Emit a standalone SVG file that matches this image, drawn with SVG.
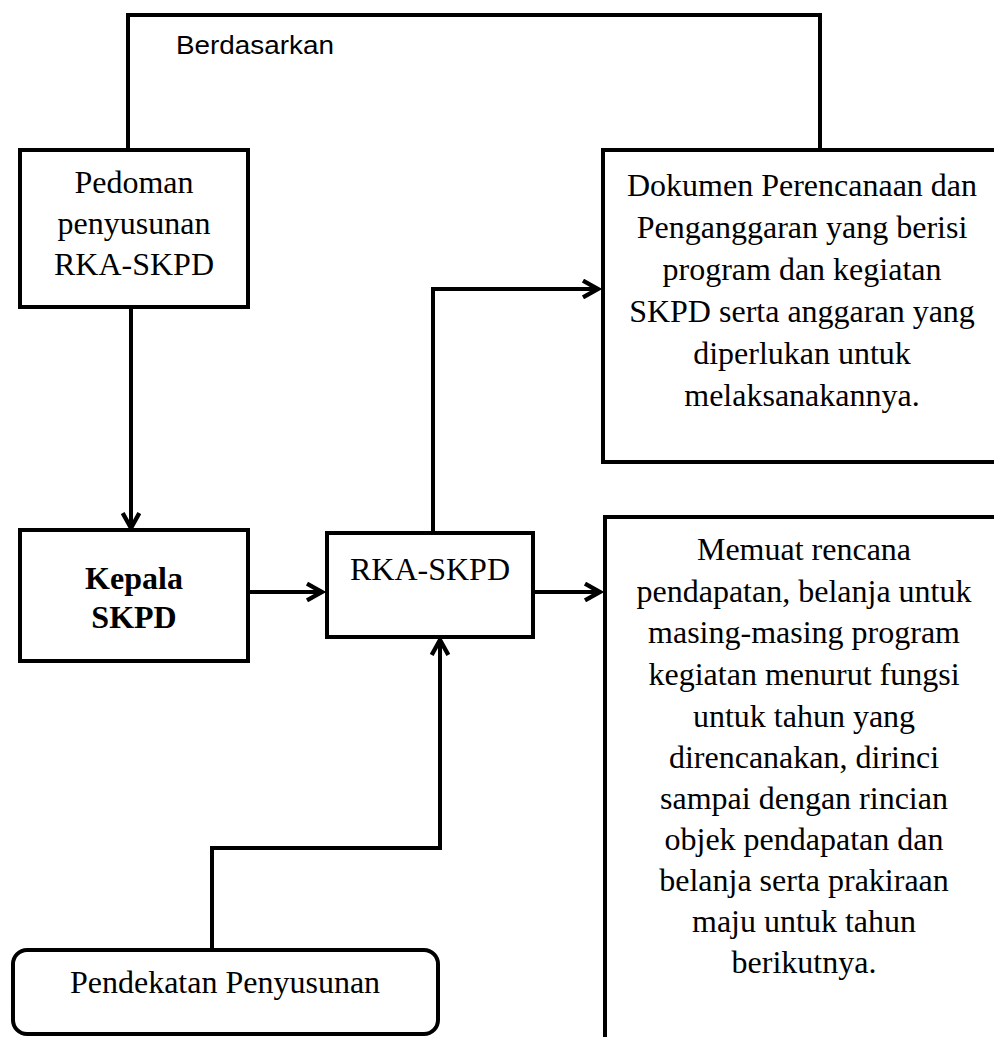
<svg xmlns="http://www.w3.org/2000/svg" width="994" height="1037" viewBox="0 0 994 1037">
<defs>
<style>
.box{fill:#fff;stroke:#000;stroke-width:4}
.ln{fill:none;stroke:#000;stroke-width:4}
.t{font-family:"Liberation Serif","Times New Roman",serif;font-size:32px;fill:#000;text-anchor:middle}
.b{font-weight:bold}
.lbl{font-family:"Liberation Sans",Arial,sans-serif;font-size:26px;fill:#000}
</style>
<marker id="ah" viewBox="0 0 12 12" refX="10" refY="6" markerWidth="5" markerHeight="5" markerUnits="strokeWidth" orient="auto">
<path d="M1,1 L10,6 L1,11" fill="none" stroke="#000" stroke-width="2.6"/>
</marker>
</defs>
<rect width="994" height="1037" fill="#fff"/>
<g id="connectors">
<path class="ln" d="M128,150 V15 H820 V152"/>
<text class="lbl" x="176" y="54" textLength="158" lengthAdjust="spacingAndGlyphs">Berdasarkan</text>
<path class="ln" d="M131,307 V528" marker-end="url(#ah)"/>
<path class="ln" d="M248,592 H322" marker-end="url(#ah)"/>
<path class="ln" d="M533,592 H600" marker-end="url(#ah)"/>
<path class="ln" d="M433,533 V289 H598" marker-end="url(#ah)"/>
<path class="ln" d="M212,950 V848 H440 V640" marker-end="url(#ah)"/>
</g>
<g id="pedoman">
<rect class="box" x="20" y="150" width="228" height="157"/>
<text class="t" x="134" y="193">Pedoman</text>
<text class="t" x="134" y="234">penyusunan</text>
<text class="t" x="134" y="275">RKA-SKPD</text>
</g>
<g id="dokumen">
<path class="box" d="M1000,150 H603 V462 H1000"/>
<text class="t" x="802" y="196">Dokumen Perencanaan dan</text>
<text class="t" x="802" y="238">Penganggaran yang berisi</text>
<text class="t" x="802" y="280">program dan kegiatan</text>
<text class="t" x="802" y="322">SKPD serta anggaran yang</text>
<text class="t" x="802" y="364">diperlukan untuk</text>
<text class="t" x="802" y="406">melaksanakannya.</text>
</g>
<g id="kepala">
<rect class="box" x="20" y="530" width="228" height="131"/>
<text class="t b" x="134" y="589">Kepala</text>
<text class="t b" x="134" y="628">SKPD</text>
</g>
<g id="rka">
<rect class="box" x="327" y="533" width="206" height="104"/>
<text class="t" x="430" y="580">RKA-SKPD</text>
</g>
<g id="memuat">
<path class="box" d="M1000,517 H605 V1040"/>
<text class="t" x="804" y="560">Memuat rencana</text>
<text class="t" x="804" y="602">pendapatan, belanja untuk</text>
<text class="t" x="804" y="643">masing-masing program</text>
<text class="t" x="804" y="685">kegiatan menurut fungsi</text>
<text class="t" x="804" y="727">untuk tahun yang</text>
<text class="t" x="804" y="768">direncanakan, dirinci</text>
<text class="t" x="804" y="809">sampai dengan rincian</text>
<text class="t" x="804" y="850">objek pendapatan dan</text>
<text class="t" x="804" y="891">belanja serta prakiraan</text>
<text class="t" x="804" y="932">maju untuk tahun</text>
<text class="t" x="804" y="973">berikutnya.</text>
</g>
<g id="pendekatan">
<rect class="box" x="13" y="950" width="425" height="84" rx="14"/>
<text class="t" x="225" y="993">Pendekatan Penyusunan</text>
</g>
</svg>
